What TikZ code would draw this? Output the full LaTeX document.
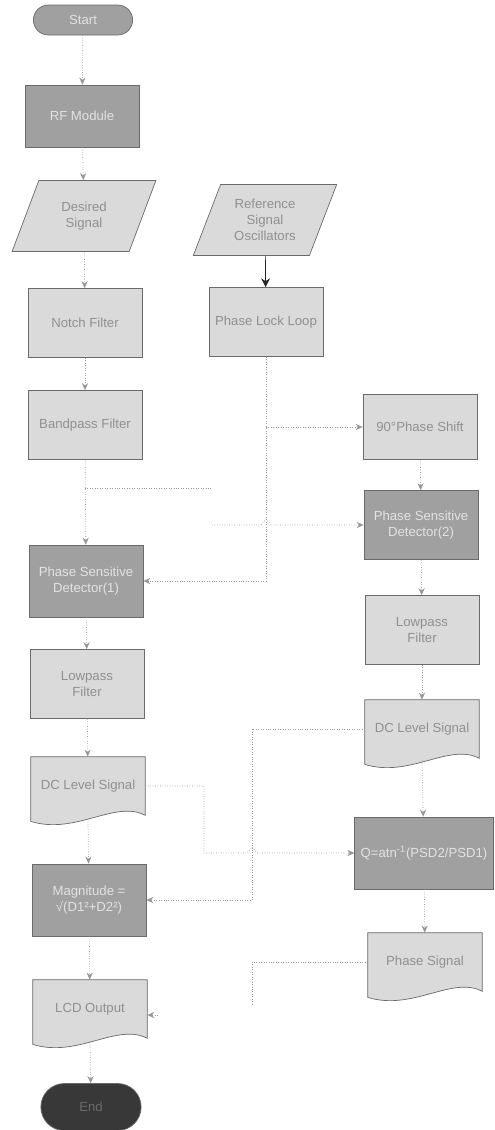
\documentclass[tikz,border=0pt]{standalone}
\usepackage{fontspec}
\setmainfont{Liberation Sans}
\usetikzlibrary{positioning,calc,shapes.geometric,shapes.misc,arrows.meta,backgrounds}

\definecolor{boxlight}{HTML}{DADADA}
\definecolor{boxdark}{HTML}{A0A0A0}
\definecolor{boxend}{HTML}{383838}
\definecolor{boxedge}{HTML}{6A6A6A}
\definecolor{linegray}{HTML}{979797}
\definecolor{textgray}{HTML}{909090}
\definecolor{textlight}{HTML}{E2E2E2}

\begin{document}
\begin{tikzpicture}[x=0.02cm, y=-0.02cm,
	font=\fontsize{7.5}{9}\selectfont,
	procbox/.style={draw=boxedge, fill=boxlight, text=textgray, rectangle, align=center, minimum width=2.28cm, minimum height=1.38cm},
	darkbox/.style={procbox, fill=boxdark, text=textlight},
	iobox/.style={draw=boxedge, fill=boxlight, text=textgray, trapezium, trapezium left angle=67, trapezium right angle=113, trapezium stretches=true, align=center, minimum width=2.88cm, minimum height=1.42cm},
	termbox/.style={draw=boxedge, fill=boxdark, text=textlight, rounded rectangle, minimum width=2.22cm, minimum height=0.6cm},
	docnode/.style={text=textgray, align=center, minimum width=2.28cm, minimum height=1.16cm},
	docshape/.style={draw=boxedge, fill=boxlight},
	flow/.style={draw=linegray, densely dotted, -{Stealth[length=4pt,width=3.5pt]}},
	link/.style={draw=linegray, densely dotted}]

	\useasboundingbox (0,0) rectangle (494,1130);

	% left column
	\node [termbox] (start) at (83, 20) {Start};
	\node [darkbox, minimum height=1.24cm] (rf) at (82, 116) {RF Module};
	\node [iobox] (desired) at (84, 216) {Desired\\Signal};
	\node [procbox] (notch) at (85, 323) {Notch Filter};
	\node [procbox] (bandpass) at (85, 425) {Bandpass Filter};
	\node [darkbox, minimum height=1.44cm] (psd1) at (86, 581) {Phase Sensitive\\Detector(1)};
	\node [procbox] (lp1) at (87, 684) {Lowpass\\Filter};
	\node [docnode] (dc1) at (88, 786) {DC Level Signal};
	\node [darkbox, minimum height=1.44cm] (mag) at (89, 900) {Magnitude =\\√(D1²+D2²)};
	\node [docnode] (lcd) at (90, 1009) {LCD Output};
	\node [termbox, fill=boxend, text=boxedge, minimum width=2.24cm, minimum height=0.94cm] (end) at (91, 1107) {End};

	% right columns
	\node [iobox] (refosc) at (265, 220) {Reference\\Signal\\Oscillators};
	\node [procbox] (pll) at (266, 322) {Phase Lock Loop};
	\node [procbox, minimum height=1.3cm] (shift90) at (420, 427) {90°Phase Shift};
	\node [darkbox] (psd2) at (421, 525) {Phase Sensitive\\Detector(2)};
	\node [procbox] (lp2) at (422, 630) {Lowpass\\Filter};
	\node [docnode] (dc2) at (422, 729) {DC Level Signal};
	\node [darkbox, minimum width=2.76cm, minimum height=1.44cm] (q) at (424, 853) {Q=atn\textsuperscript{-1}(PSD2/PSD1)};
	\node [docnode] (phase) at (425, 962) {Phase Signal};

	% document outlines
	\begin{scope}[on background layer]
	\foreach \d in {dc1, lcd, dc2, phase}
		\path [docshape] (\d.north west) -- (\d.north east) -- (\d.south east)
			.. controls ($(\d.south east)+(-30,-16)$) and ($(\d.south west)+(45,20)$) .. ($(\d.south west)+(0,6)$) -- cycle;
	\end{scope}

	% main flow
	\path [flow] (start) -- (rf);
	\path [flow] (rf) -- (desired);
	\path [flow] (desired) -- (notch);
	\path [flow] (notch) -- (bandpass);
	\path [flow] (bandpass) -- (psd1);
	\path [flow] (psd1) -- (lp1);
	\path [flow] (lp1) -- (dc1);
	\path [flow] ($(dc1.south)+(0,4)$) -- (mag);
	\path [flow] (mag) -- (lcd);
	\path [flow] ($(lcd.south)+(0,4)$) -- (end);

	\path [draw=black!85, -{Stealth[length=5pt,width=5pt]}] (refosc) -- (pll);
	\path [flow] (pll.south) |- (psd1.east);
	\path [flow] (pll.south |- shift90.west) -- (shift90.west);
	\path [flow] (shift90) -- (psd2);
	\path [flow] (psd2) -- (lp2);
	\path [flow] (lp2) -- (dc2);
	\path [flow] ($(dc2.south)+(0,2)$) -- (q);
	\path [flow] (q) -- (phase);

	% cross links
	\coordinate (bpout) at (212, 488);
	\coordinate (bpin) at (212, 525);
	\path [link] (bandpass.south |- bpout) -- (bpout);
	\path [flow] (bpin) -- (261, 525) -- (266, 519) -- (271, 525) -- (psd2.west);
	\path [flow] (dc2.west) -| (252, 900) -- (mag.east);
	\path [flow] (dc1.east) -| (204, 853) -- (247, 853) -- (252, 847) -- (257, 853) -- (q.west);

	\coordinate (phaseend) at (252, 1005);
	\coordinate (lcdin) at (158, 1015);
	\path [link] (phase.west) -| (phaseend);
	\path [flow] (lcdin) -- (lcd.east |- lcdin);

\end{tikzpicture}
\end{document}
